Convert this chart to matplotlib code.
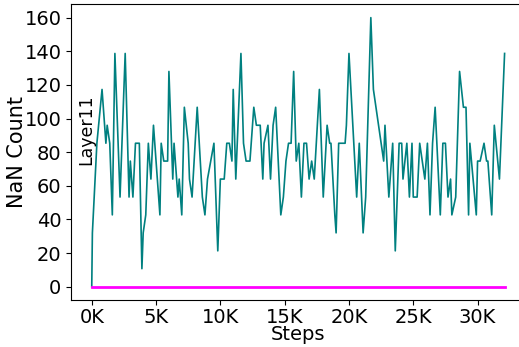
import matplotlib
matplotlib.use('Agg')
import matplotlib.pyplot as plt
from matplotlib.ticker import FuncFormatter

# NaN counts per training step
steps = [0, 50, 400, 800, 1100, 1200, 1400, 1600, 1800, 2200, 2600, 2900, 3000, 3200,
         3400, 3700, 3900, 4000, 4200, 4400, 4600, 4800, 5300, 5400, 5600, 5900, 6000,
         6300, 6400, 6700, 6800, 7000, 7200, 7500, 7600, 7800, 8200, 8600, 8800, 9000,
         9500, 9800, 10000, 10300, 10500, 10700, 10900, 11000, 11200, 11600, 11800,
         12000, 12300, 12400, 12600, 12800, 13100, 13300, 13400, 13700, 13900, 14100,
         14300, 14700, 14900, 15100, 15300, 15500, 15700, 15900, 16100, 16300, 16500,
         16700, 16900, 17100, 17300, 17700, 18000, 18300, 18500, 18600, 18900, 19000,
         19200, 19400, 19700, 19800, 20000, 20600, 20800, 21100, 21300, 21700, 21900,
         22700, 22800, 23100, 23400, 23600, 23900, 24100, 24200, 24500, 24700, 24900,
         25000, 25300, 25500, 25700, 25900, 26100, 26300, 26500, 26700, 27100, 27300,
         27500, 27700, 27900, 28000, 28300, 28600, 28900, 29100, 29300, 29400, 29900,
         30000, 30200, 30500, 30700, 30800, 31100, 31300, 31700, 32100]

layer11_nan = [0, 32, 85.3, 117.3, 85.3, 96, 85.3, 42.7, 138.7, 53.3, 138.7, 53.3, 74.7, 53.3,
               85.3, 85.3, 10.7, 32, 42.7, 85.3, 64, 96, 42.7, 85.3, 74.7, 74.7, 128,
               64, 85.3, 53.3, 64, 42.7, 106.7, 85.3, 64, 53.3, 106.7, 53.3, 42.7, 64,
               85.3, 21.3, 64, 64, 85.3, 85.3, 74.7, 117.3, 64, 138.7, 85.3,
               74.7, 74.7, 85.3, 106.7, 96, 96, 64, 85.3, 96, 64, 96,
               106.7, 42.7, 53.3, 74.7, 85.3, 85.3, 128, 74.7, 85.3, 53.3, 85.3,
               85.3, 64, 74.7, 64, 117.3, 53.3, 96, 85.3, 85.3, 42.7, 32,
               85.3, 85.3, 85.3, 96, 138.7, 53.3, 85.3, 32, 53.3, 160, 117.3,
               74.7, 96, 53.3, 85.3, 21.3, 85.3, 85.3, 64, 85.3, 53.3, 85.3,
               53.3, 53.3, 85.3, 74.7, 64, 85.3, 42.7, 85.3, 106.7, 42.7, 85.3,
               85.3, 53.3, 64, 42.7, 53.3, 128, 106.7, 106.7, 42.7, 85.3, 42.7,
               74.7, 74.7, 85.3, 74.7, 74.7, 42.7, 96, 64, 138.7]

inf_steps = [0, 32100]
inf_counts = [0, 0]

fig = plt.figure(figsize=(5.19, 3.47), dpi=100)
ax = fig.add_axes([0.137, 0.135, 0.875, 0.853])

ax.plot(steps, layer11_nan, color='teal', linewidth=1.2)
ax.plot(inf_steps, inf_counts, color='magenta', linewidth=2)

ax.xaxis.set_major_formatter(FuncFormatter(lambda v, pos: f'{int(round(v / 1000))}K'))
ax.set_xticks([0, 5000, 10000, 15000, 20000, 25000, 30000])
ax.set_yticks(range(0, 161, 20))
ax.tick_params(labelsize=14)
ax.tick_params(axis='x', pad=2)

ax.set_xlabel('Steps', fontsize=14, labelpad=-1)
ax.set_ylabel('NaN Count', fontsize=15, labelpad=-2)
ax.text(0.034, 0.575, 'Layer11', rotation=90, fontsize=12.5,
        ha='center', va='center', transform=ax.transAxes)

fig.savefig('out.png', dpi=100)
